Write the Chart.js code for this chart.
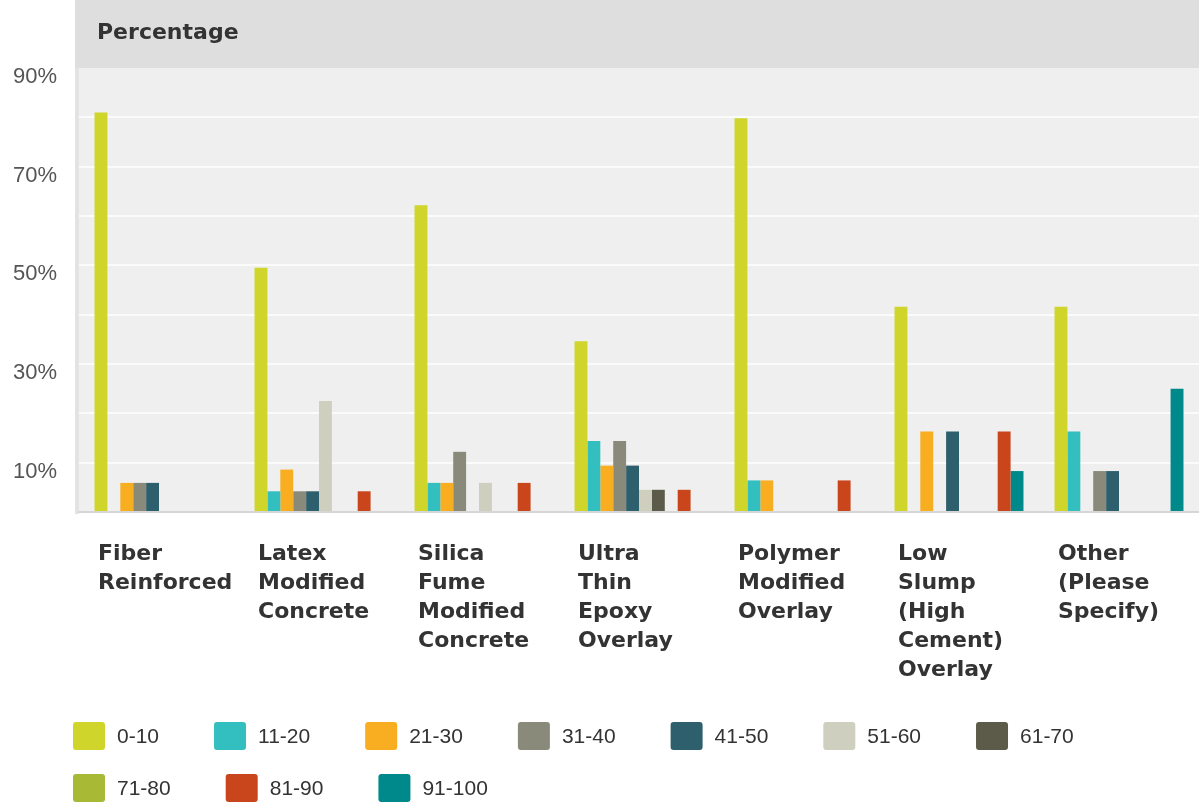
<!DOCTYPE html>
<html lang="en">

<head>
  <title>Percentage</title>
  <meta charset="UTF-8">
  <script src="https://cdn.jsdelivr.net/npm/chart.js"></script>
  <style>
    body { margin: 0; background: #fff; }
    .container { position: relative; width: 1199px; height: 805px; }
  </style>
</head>

<body>
  <div class="container"> <canvas id="chart"></canvas> </div>
</body>

<script>
  // categories (multi-line labels)
  const categories = [
    ['Fiber', 'Reinforced'],
    ['Latex', 'Modified', 'Concrete'],
    ['Silica', 'Fume', 'Modified', 'Concrete'],
    ['Ultra', 'Thin', 'Epoxy', 'Overlay'],
    ['Polymer', 'Modified', 'Overlay'],
    ['Low', 'Slump', '(High', 'Cement)', 'Overlay'],
    ['Other', '(Please', 'Specify)']
  ];

  const ranges = ['0-10', '11-20', '21-30', '31-40', '41-50', '51-60', '61-70', '71-80', '81-90', '91-100'];
  const colors = ['#cfd52a', '#33bec0', '#f8ae20', '#8a8a7a', '#2e5f6c', '#cfcfc0', '#5c5a49', '#a7b935', '#c9451b', '#00898a'];

  // percentages per range, one value per category
  const r0_10 = [81, 49.5, 62.2, 34.6, 79.8, 41.6, 41.6];
  const r11_20 = [0, 4.2, 5.9, 14.4, 6.4, 0, 16.3];
  const r21_30 = [5.9, 8.6, 5.9, 9.4, 6.4, 16.3, 0];
  const r31_40 = [5.9, 4.2, 12.2, 14.4, 0, 0, 8.3];
  const r41_50 = [5.9, 4.2, 0, 9.4, 0, 16.3, 8.3];
  const r51_60 = [0, 22.5, 5.9, 4.5, 0, 0, 0];
  const r61_70 = [0, 0, 0, 4.5, 0, 0, 0];
  const r71_80 = [0, 0, 0, 0, 0, 0, 0];
  const r81_90 = [0, 4.2, 5.9, 4.5, 6.4, 16.3, 0];
  const r91_100 = [0, 0, 0, 0, 0, 8.3, 25];

  const series = [r0_10, r11_20, r21_30, r31_40, r41_50, r51_60, r61_70, r71_80, r81_90, r91_100];

  // header band, plot background and left strip
  const fundoPlugin = {
    id: 'fundo',
    beforeDraw(chart) {
      const { ctx, chartArea: a } = chart;
      ctx.save();
      ctx.fillStyle = '#dedede';
      ctx.fillRect(a.left - 4, 0, chart.width - a.left + 4, a.top);
      ctx.fillStyle = '#efefef';
      ctx.fillRect(a.left, a.top, a.right - a.left, a.bottom - a.top);
      ctx.fillStyle = '#e3e3e3';
      ctx.fillRect(a.left - 4, a.top, 4, a.bottom - a.top + 2);
      ctx.fillStyle = '#333';
      ctx.font = 'bold 22px "DejaVu Sans", sans-serif';
      ctx.textBaseline = 'middle';
      ctx.fillText('Percentage', a.left + 18, a.top / 2 - 1);
      ctx.restore();
    }
  };

  // legend drawn below the axis labels
  const legendaPlugin = {
    id: 'legenda',
    afterDraw(chart) {
      const ctx = chart.ctx;
      ctx.save();
      ctx.font = '21px "Liberation Sans", Arial, sans-serif';
      ctx.textBaseline = 'middle';
      let x = 73, y = 736;
      chart.data.datasets.forEach(ds => {
        const w = 44 + ctx.measureText(ds.label).width;
        if (x + w > chart.width) { x = 73; y += 52; }
        ctx.fillStyle = ds.backgroundColor;
        ctx.beginPath();
        ctx.roundRect(x, y - 14, 32, 28, 3);
        ctx.fill();
        ctx.fillStyle = '#333';
        ctx.fillText(ds.label, x + 44, y + 1);
        x += w + 55;
      });
      ctx.restore();
    }
  };

  const dados = {
    labels: categories,
    datasets: ranges.map((r, i) => ({
      label: r,
      data: series[i],
      backgroundColor: colors[i],
      borderWidth: 0,
      categoryPercentage: 0.806,
      barPercentage: 1.0
    }))
  };

  const opcoes = {
    responsive: true,
    maintainAspectRatio: false,
    animation: false,
    layout: { padding: { top: 68, left: 0, right: 0, bottom: 120 } },
    plugins: {
      legend: { display: false },
      tooltip: { enabled: false }
    },
    scales: {
      x: {
        grid: { display: false, drawTicks: false },
        border: { color: '#d6d6d6', width: 2 },
        ticks: {
          autoSkip: false,
          maxRotation: 0,
          align: 'start',
          labelOffset: -61,
          padding: 28,
          color: '#333',
          font: { family: '"DejaVu Sans", sans-serif', size: 22, weight: 'bold', lineHeight: 1.32 }
        },
        afterFit: s => { s.paddingLeft = 0; s.paddingRight = 0; s.height = 173; }
      },
      y: {
        min: 0,
        max: 90,
        border: { display: false },
        grid: {
          drawTicks: false,
          lineWidth: 2,
          color: c => c.tick.value === 0 ? '#d6d6d6' : (c.tick.value === 90 ? 'rgba(0,0,0,0)' : '#fbfbfb')
        },
        ticks: {
          stepSize: 10,
          padding: 22,
          labelOffset: 9,
          color: '#555',
          font: { family: '"Liberation Sans", Arial, sans-serif', size: 22 },
          callback: v => v % 20 === 10 ? v + '%' : ''
        },
        afterFit: s => { s.width = 79; }
      }
    }
  };

  new Chart(document.getElementById('chart'), {
    type: 'bar',
    data: dados,
    options: opcoes,
    plugins: [fundoPlugin, legendaPlugin]
  });
</script>

</html>
